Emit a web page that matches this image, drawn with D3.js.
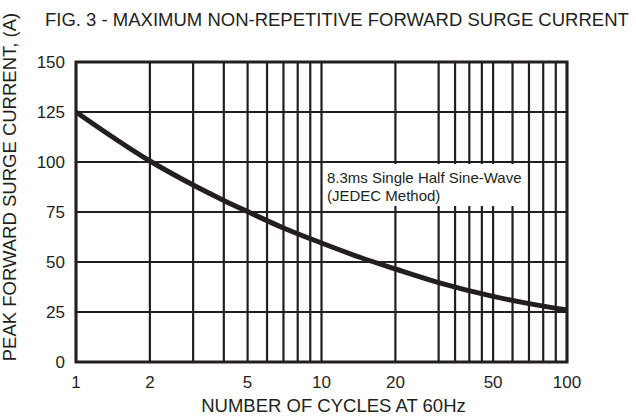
<!DOCTYPE html>
<html lang="en">
<head>
<meta charset="UTF-8">
<title>Fig. 3 - Maximum non-repetitive forward surge current</title>
<style>
    body { margin: 0; background: #fff; }
    svg { display: block; }
    text { font-family: "Liberation Sans", Arial, sans-serif; fill: #231f20; }
</style>
</head>
<body>
<script src="https://cdnjs.cloudflare.com/ajax/libs/d3/7.8.5/d3.min.js"></script>
<script>
    const width = 636
    const height = 420
    const ink = '#231f20'

    // curve
    const cycles = [1, 2, 3, 4, 5, 7, 10, 15, 20, 30, 50, 70, 100]
    const current = [125, 100.5, 88.5, 80.8, 75.2, 67, 59.5, 51.5, 46.5, 39.7, 32.8, 29.2, 26]

    const xTicks = [1, 2, 5, 10, 20, 50, 100]
    const yTicks = [0, 25, 50, 75, 100, 125, 150]
    // vertical grid of the original sheet (it has extra lines at 35 and 45)
    const xGrid = [1, 2, 3, 4, 5, 6, 7, 8, 9, 10, 20, 30, 35, 40, 45, 50, 60, 70, 80, 90, 100]

    const plot = { left: 76, right: 567, top: 62, bottom: 362 }

    const x = d3.scaleLog().domain([1, 100]).range([plot.left, plot.right])
    const y = d3.scaleLinear().domain([0, 150]).range([plot.bottom, plot.top])

    const svg = d3.select('body').append('svg')
        .attr('width', width)
        .attr('height', height)

    drawGrid()
    drawNote()
    drawCurve()
    drawFrame()
    drawLabels()

    function drawGrid() {
        const g = svg.append('g').attr('class', 'grid')
            .attr('stroke', ink)
            .attr('stroke-width', 2.2)

        g.selectAll('line.v')
            .data(xGrid)
            .enter()
            .append('line')
            .attr('class', 'v')
            .attr('x1', d => x(d))
            .attr('x2', d => x(d))
            .attr('y1', plot.top)
            .attr('y2', plot.bottom)

        g.selectAll('line.h')
            .data(yTicks)
            .enter()
            .append('line')
            .attr('class', 'h')
            .attr('x1', plot.left)
            .attr('x2', plot.right)
            .attr('y1', d => y(d))
            .attr('y2', d => y(d))
    }

    // white box behind the note, it hides the grid lines
    function drawNote() {
        const g = svg.append('g')
        g.append('rect')
            .attr('x', x(10.2))
            .attr('y', y(99))
            .attr('width', x(62) - x(10.2))
            .attr('height', y(78) - y(99))
            .attr('fill', '#fff')

        g.append('text')
            .attr('x', 327)
            .attr('y', 183)
            .attr('font-size', 15)
            .text('8.3ms Single Half Sine-Wave')
        g.append('text')
            .attr('x', 327)
            .attr('y', 201)
            .attr('font-size', 15)
            .text('(JEDEC Method)')
    }

    function drawCurve() {
        const line = d3.line()
            .x((d, i) => x(cycles[i]))
            .y(d => y(d))
            .curve(d3.curveMonotoneX)

        svg.append('path')
            .datum(current)
            .attr('d', line)
            .attr('fill', 'none')
            .attr('stroke', ink)
            .attr('stroke-width', 5)
    }

    function drawFrame() {
        svg.append('rect')
            .attr('x', plot.left)
            .attr('y', plot.top)
            .attr('width', plot.right - plot.left)
            .attr('height', plot.bottom - plot.top)
            .attr('fill', 'none')
            .attr('stroke', ink)
            .attr('stroke-width', 3)
    }

    function drawLabels() {
        svg.append('g')
            .selectAll('text')
            .data(yTicks)
            .enter()
            .append('text')
            .attr('x', 65)
            .attr('y', d => y(d))
            .attr('dy', '0.36em')
            .attr('text-anchor', 'end')
            .attr('font-size', 17)
            .text(d => d)

        svg.append('g')
            .selectAll('text')
            .data(xTicks)
            .enter()
            .append('text')
            .attr('x', d => x(d))
            .attr('y', 388)
            .attr('text-anchor', 'middle')
            .attr('font-size', 17)
            .text(d => d)

        svg.append('text')
            .attr('x', (plot.left + plot.right) / 2 + 12)
            .attr('y', 412)
            .attr('text-anchor', 'middle')
            .attr('font-size', 18.5)
            .text('NUMBER OF CYCLES AT 60Hz')

        svg.append('text')
            .attr('transform', 'translate(16, 187) rotate(-90)')
            .attr('text-anchor', 'middle')
            .attr('font-size', 18.5)
            .text('PEAK FORWARD SURGE CURRENT, (A)')

        svg.append('text')
            .attr('x', 45)
            .attr('y', 25.5)
            .attr('font-size', 18.5)
            .text('FIG. 3 - MAXIMUM NON-REPETITIVE FORWARD SURGE CURRENT')
    }
</script>
</body>
</html>
